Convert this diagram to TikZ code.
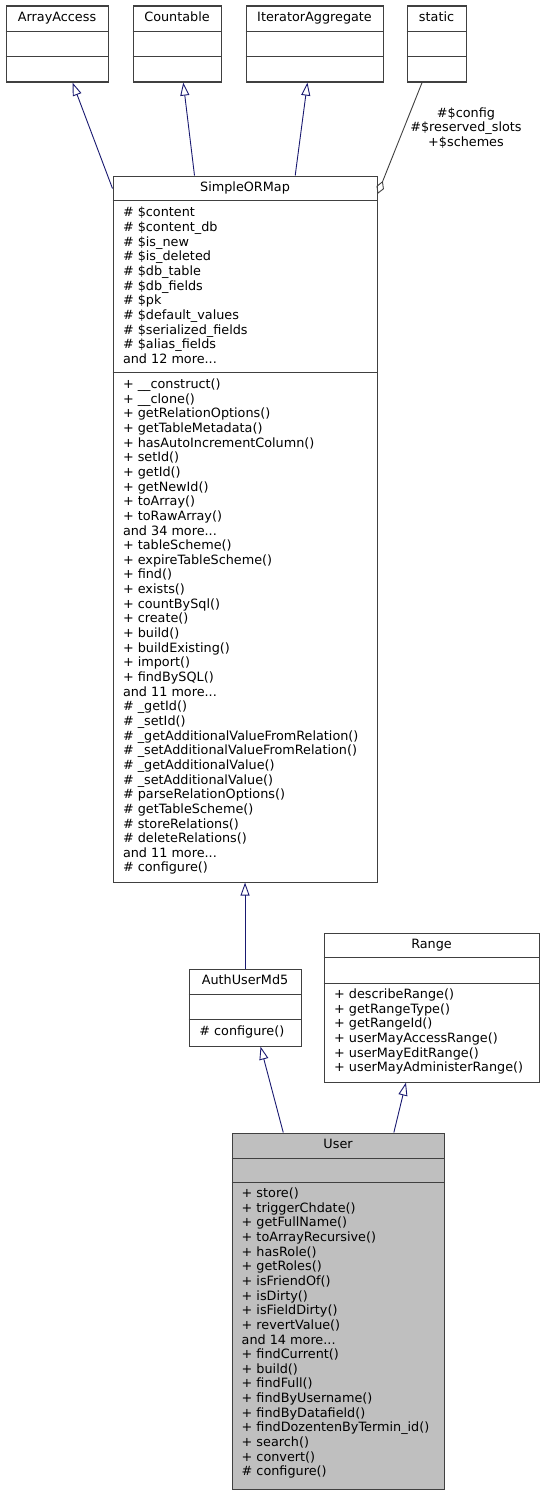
\documentclass[tikz,border=0pt]{standalone}
\usepackage{fontspec}
\setmainfont{DejaVu Sans}
\usetikzlibrary{arrows.meta,calc}
\definecolor{boxc}{HTML}{404040}
\definecolor{navy}{HTML}{191970}
\definecolor{usrfill}{HTML}{BFBFBF}
\newcommand\fs{\fontsize{12.8}{14.65}\selectfont}
\tikzset{
  box/.style={draw=boxc, line width=1.1pt, inner sep=0pt, anchor=north west, fill=white},
  ttl/.style={anchor=base, inner sep=0pt, font=\fs},
  txt/.style={anchor=north west, inner sep=0pt, align=left, font=\fs},
  divl/.style={draw=boxc, line width=1.1pt},
  inh/.style={draw=navy, line width=0.9pt, -{Triangle[open, length=13pt, width=9pt]}},
  agg/.style={draw=boxc, line width=0.9pt, -{Diamond[open, length=14pt, width=8pt]}},
}
\newcommand\umlbox[7][white]{%
  \node[box, fill=#1, minimum width=#5pt, minimum height=#6pt] (#2) at (#3,#4) {};
  \node[ttl] (#2-t) at ($(#2.north)+(0,16)$) {#7};
}
\newcommand\divline[2]{\draw[divl] ($(#1.north west)+(0,#2)$) -- ($(#1.north east)+(0,#2)$);}
\begin{document}
\begin{tikzpicture}[x=1pt, y={(0,-1pt)}]
\useasboundingbox (0,0) rectangle (544,1493);

% top row
\umlbox{aa}{5.5}{5.5}{102}{76}{ArrayAccess}
\divline{aa}{26}\divline{aa}{51}
\umlbox{cnt}{132.5}{5.5}{88}{76}{Countable}
\divline{cnt}{26}\divline{cnt}{51}
\umlbox{ia}{245.5}{5.5}{137}{76}{IteratorAggregate}
\divline{ia}{26}\divline{ia}{51}
\umlbox{st}{406.5}{5.5}{59}{76}{static}
\divline{st}{26}\divline{st}{51}

% SimpleORMap
\umlbox{sorm}{112.5}{175.5}{264}{706}{SimpleORMap}
\divline{sorm}{25}\divline{sorm}{197}
\node[txt] (sorm-a) at (122.8,206.45) {\strut\# \$content\\
\# \$content\_db\\
\# \$is\_new\\
\# \$is\_deleted\\
\# \$db\_table\\
\# \$db\_fields\\
\# \$pk\\
\# \$default\_values\\
\# \$serialized\_fields\\
\# \$alias\_fields\\
and 12 more...};
\node[txt] (sorm-m) at (122.8,378.05) {\strut+ \_\_construct()\\
+ \_\_clone()\\
+ getRelationOptions()\\
+ getTableMetadata()\\
+ hasAutoIncrementColumn()\\
+ setId()\\
+ getId()\\
+ getNewId()\\
+ toArray()\\
+ toRawArray()\\
and 34 more...\\
+ tableScheme()\\
+ expireTableScheme()\\
+ find()\\
+ exists()\\
+ countBySql()\\
+ create()\\
+ build()\\
+ buildExisting()\\
+ import()\\
+ findBySQL()\\
and 11 more...\\
\# \_getId()\\
\# \_setId()\\
\# \_getAdditionalValueFromRelation()\\
\# \_setAdditionalValueFromRelation()\\
\# \_getAdditionalValue()\\
\# \_setAdditionalValue()\\
\# parseRelationOptions()\\
\# getTableScheme()\\
\# storeRelations()\\
\# deleteRelations()\\
and 11 more...\\
\# configure()};

% AuthUserMd5
\umlbox{aum}{188.5}{968.5}{112}{77}{AuthUserMd5}
\divline{aum}{26}\divline{aum}{51}
\node[txt] (aum-m) at (199.2,1024.75) {\strut\# configure()};

% Range
\umlbox{rng}{323.5}{932.5}{215}{149}{Range}
\divline{rng}{25}\divline{rng}{51}
\node[txt] (rng-m) at (334,988.05) {\strut+ describeRange()\\
+ getRangeType()\\
+ getRangeId()\\
+ userMayAccessRange()\\
+ userMayEditRange()\\
+ userMayAdministerRange()};

% User
\umlbox[usrfill]{usr}{231.5}{1132.5}{212}{356}{User}
\divline{usr}{26}\divline{usr}{50}
\node[txt] (usr-m) at (241.5,1187.05) {\strut+ store()\\
+ triggerChdate()\\
+ getFullName()\\
+ toArrayRecursive()\\
+ hasRole()\\
+ getRoles()\\
+ isFriendOf()\\
+ isDirty()\\
+ isFieldDirty()\\
+ revertValue()\\
and 14 more...\\
+ findCurrent()\\
+ build()\\
+ findFull()\\
+ findByUsername()\\
+ findByDatafield()\\
+ findDozentenByTermin\_id()\\
+ search()\\
+ convert()\\
\# configure()};

% connectors
\draw[inh] ($(sorm.north west)+(0,13)$) -- ($(aa.south)+(15.5,0)$);
\draw[inh] ($(sorm.north west)+(82,0)$) -- ($(cnt.south)+(6.2,0)$);
\draw[inh] ($(sorm.north west)+(182.7,0)$) -- ($(ia.south)+(-7.1,0)$);
\draw[agg] ($(st.south)+(-14.5,0)$) -- ($(sorm.north east)+(0,18.5)$);
\node[anchor=north, align=center, inner sep=0pt, font=\fs] (lbl) at (466,106.75) {\strut\#\$config\\\#\$reserved\_slots\\+\$schemes};
\draw[inh] (aum.north) -- (sorm.south);
\draw[inh] ($(usr.north)+(-54.8,0)$) -- ($(aum.south)+(15.5,0)$);
\draw[inh] ($(usr.north)+(55.8,0)$) -- ($(rng.south)+(-25.6,0)$);
\end{tikzpicture}
\end{document}
